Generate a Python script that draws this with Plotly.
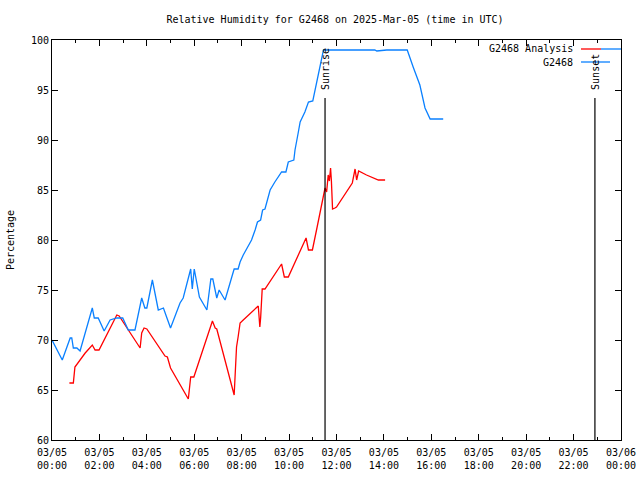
import plotly.graph_objects as go

DAY = "2025-03-05"

# G2468 (blue) observations
obs_times = ["00:00","00:26","00:46","00:50","00:54","01:03","01:11","01:42","01:47","01:57",
             "02:12","02:27","02:44","02:59","03:13","03:30","03:47","03:55","04:00","04:14",
             "04:29","04:42","04:50","05:00","05:24","05:32","05:51","05:55","06:00","06:13",
             "06:32","06:42","06:47","06:57","07:03","07:18","07:35","07:41","07:51","07:56",
             "08:04","08:25","08:34","08:40","08:48","08:53","08:59","09:07","09:12","09:24",
             "09:41","09:52","09:58","10:12","10:15","10:23","10:28","10:40","10:49","11:00",
             "11:06","11:14","11:27","13:37","13:42","14:07","14:59","15:14","15:31","15:44",
             "15:57","16:30"]
obs_values = [70.0,68.0,70.2,70.2,69.2,69.2,68.9,73.2,72.2,72.2,
              70.9,72.0,72.2,72.2,71.0,71.0,74.2,73.2,73.2,76.0,
              73.0,73.2,72.3,71.2,73.7,74.2,77.1,75.1,77.1,74.3,
              73.0,76.1,76.1,74.2,75.0,74.0,76.3,77.1,77.1,77.8,
              78.5,80.0,81.0,81.8,82.0,83.0,83.1,84.2,85.0,85.8,
              86.8,86.8,87.8,88.0,89.0,90.7,91.8,92.8,93.8,93.9,
              95.0,96.8,99.0,99.0,98.9,99.0,99.0,97.3,95.5,93.2,
              92.1,92.1]

# G2468 Analysis (red)
ana_times = ["00:44","00:54","00:58","01:11","01:24","01:42","01:49","01:59","02:44","02:50",
             "03:17","03:43","03:47","03:53","04:00","04:46","04:52","05:00","05:45","05:51",
             "05:59","06:46","06:53","06:57","07:41","07:45","07:47","07:51","07:56","08:04",
             "08:42","08:46","08:48","08:52","08:59","09:41","09:48","09:58","10:43","10:49",
             "10:59","11:11","11:27","11:31","11:35","11:39","11:42","11:45","11:47","11:50",
             "11:56","12:00","12:40","12:47","12:51","12:56","13:16","13:46","14:03"]
ana_values = [65.7,65.7,67.3,68.0,68.7,69.5,69.0,69.0,72.5,72.4,
              70.7,69.2,70.7,71.2,71.1,68.4,68.3,67.2,64.1,66.3,
              66.3,71.9,71.2,71.1,64.5,67.8,69.3,70.3,71.7,72.0,
              73.4,71.3,72.2,75.1,75.1,77.6,76.3,76.3,80.2,79.0,
              79.0,81.3,84.3,85.2,84.8,86.5,85.9,87.2,86.0,83.1,
              83.2,83.3,85.7,87.1,86.0,86.9,86.5,86.0,86.0]

sun_events = ["Sunrise", "Sunset"]
sun_times = ["11:31", "22:54"]

tick_times = ["2025-03-05 %02d:00" % h for h in range(0, 24, 2)] + ["2025-03-06 00:00"]
y_ticks = [60, 65, 70, 75, 80, 85, 90, 95, 100]

BLUE = "#0a80ff"
RED = "#ff0000"
FONT = "DejaVu Sans Mono"

def ts(t):
    return f"{DAY} {t}"

fig = go.Figure()
fig.add_trace(go.Scatter(x=[ts(t) for t in ana_times], y=ana_values, mode="lines",
                         line=dict(color=RED, width=1.3), name="G2468 Analysis",
                         showlegend=False))
fig.add_trace(go.Scatter(x=[ts(t) for t in obs_times], y=obs_values, mode="lines",
                         line=dict(color=BLUE, width=1.3), name="G2468",
                         showlegend=False))

for ev, t in zip(sun_events, sun_times):
    fig.add_shape(type="line", xref="x", yref="y", x0=ts(t), x1=ts(t), y0=60, y1=94.2,
                  line=dict(color="black", width=1.2))
    fig.add_annotation(x=ts(t), y=94.8, xref="x", yref="y", text=ev, textangle=-90,
                       showarrow=False, yanchor="bottom", xanchor="center",
                       font=dict(family=FONT, size=10, color="black"))

# legend (gnuplot style key)
legend_rows = [("G2468 Analysis", 49), ("G2468", 62)]
for (label, ypx) in legend_rows:
    yp = 1 - (ypx - 40) / 400
    fig.add_annotation(x=(575 - 52) / 569, y=yp, xref="paper", yref="paper", text=label,
                       showarrow=False, xanchor="right", yanchor="middle",
                       font=dict(family=FONT, size=10, color="black"))
y1 = 1 - (49 - 40) / 400
y2 = 1 - (62 - 40) / 400
fig.add_shape(type="line", xref="paper", yref="paper", x0=(581 - 52) / 569, x1=(601 - 52) / 569,
              y0=y1, y1=y1, line=dict(color=RED, width=1.3))
fig.add_shape(type="line", xref="paper", yref="paper", x0=(601 - 52) / 569, x1=1,
              y0=y1, y1=y1, line=dict(color=BLUE, width=1.3))
fig.add_shape(type="line", xref="paper", yref="paper", x0=(581 - 52) / 569, x1=(610 - 52) / 569,
              y0=y2, y1=y2, line=dict(color=BLUE, width=1.3))

fig.update_layout(
    width=640, height=480,
    margin=dict(l=52, r=19, t=40, b=40),
    paper_bgcolor="white", plot_bgcolor="white",
    font=dict(family=FONT, size=10, color="black"),
    title=dict(text="Relative Humidity for G2468 on 2025-Mar-05 (time in UTC)",
               x=335 / 640, xanchor="center", y=1 - 19 / 480, yanchor="middle",
               font=dict(family=FONT, size=10, color="black")),
    showlegend=False,
)
fig.update_xaxes(type="date", range=["2025-03-05 00:00", "2025-03-06 00:00"],
                 tickvals=tick_times, tickformat="%m/%d<br>%H:%M",
                 ticks="inside", ticklen=6, tickcolor="black",
                 showline=True, linecolor="black", linewidth=1, mirror="ticks",
                 showgrid=False, zeroline=False, automargin=False,
                 ticklabelstandoff=3,
                 minor=dict(dtick=3600000, ticks="inside", ticklen=3, tickcolor="black", showgrid=False),
                 tickfont=dict(family=FONT, size=10, color="black"))
fig.update_yaxes(range=[60, 100], tickvals=y_ticks,
                 ticks="inside", ticklen=6, tickcolor="black",
                 showline=True, linecolor="black", linewidth=1, mirror="ticks",
                 showgrid=False, zeroline=False, automargin=False,
                 title=dict(text="Percentage", standoff=14,
                            font=dict(family=FONT, size=10, color="black")),
                 tickfont=dict(family=FONT, size=10, color="black"))

fig.write_html("out.html")
